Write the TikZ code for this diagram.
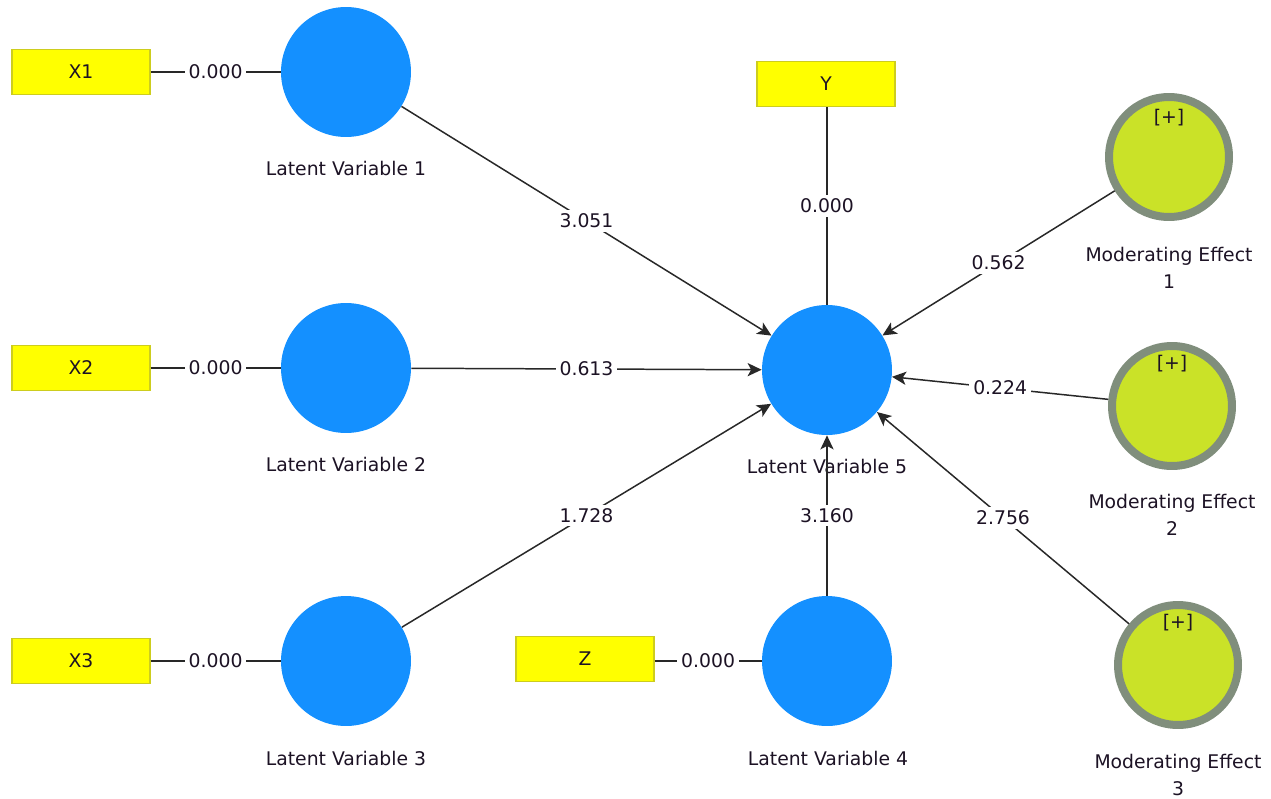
\documentclass[tikz,border=0pt]{standalone}
\usepackage{fontspec}
\setmainfont{DejaVu Sans}
\usetikzlibrary{arrows.meta}
\definecolor{lvblue}{RGB}{20,144,255}
\definecolor{indyellow}{RGB}{255,255,0}
\definecolor{indedge}{RGB}{205,205,30}
\definecolor{modfill}{RGB}{202,226,40}
\definecolor{modring}{RGB}{128,142,124}
\definecolor{txt}{RGB}{28,18,36}
\definecolor{wire}{RGB}{40,40,40}
\begin{document}
\begin{tikzpicture}[x=0.02cm,y=-0.02cm,
  every node/.style={font=\fontsize{10.7}{15.3}\selectfont, text=txt},
  indicator/.style={rectangle, draw=indedge, fill=indyellow, line width=0.6pt,
    minimum width=2.76cm, minimum height=0.9cm, inner sep=0pt},
  latent/.style={circle, fill=lvblue, minimum size=2.6cm, inner sep=0pt},
  moderator/.style={circle, fill=modfill, draw=modring, line width=0.16cm,
    minimum size=2.4cm, inner sep=0pt},
  caption/.style={align=center},
  coef/.style={fill=white, inner sep=2.2pt},
  link/.style={draw=wire, line width=0.85pt},
  effect/.style={link, -{Stealth[length=8pt,width=7.5pt,inset=2pt]}}
]
\useasboundingbox (0,0) rectangle (1271,798);

% indicators
\node[indicator] (x1) at (81,72)  {X1};
\node[indicator] (x2) at (81,368) {X2};
\node[indicator] (x3) at (81,661) {X3};
\node[indicator] (y)  at (826,84) {Y};
\node[indicator] (z)  at (585,659) {Z};

% latent variables
\node[latent] (lv1) at (346,72)  {};
\node[latent] (lv2) at (346,368) {};
\node[latent] (lv3) at (346,661) {};
\node[latent] (lv4) at (827,661) {};
\node[latent] (lv5) at (827,370) {};

\node[caption] (lv1c) at (346,168) {Latent Variable 1};
\node[caption] (lv2c) at (346,464) {Latent Variable 2};
\node[caption] (lv3c) at (346,758) {Latent Variable 3};
\node[caption] (lv4c) at (828,758) {Latent Variable 4};
\node[caption] (lv5c) at (827,466) {Latent Variable 5};

% moderating effects
\node[moderator] (me1) at (1169,157) {};
\node[moderator] (me2) at (1172,406) {};
\node[moderator] (me3) at (1178,665) {};

\node (me1p) at (1169,118) {[+]};
\node (me2p) at (1172,364) {[+]};
\node (me3p) at (1178,623) {[+]};

\node[caption] (me1c) at (1169,268) {Moderating Effect\\1};
\node[caption] (me2c) at (1172,515) {Moderating Effect\\2};
\node[caption] (me3c) at (1178,775) {Moderating Effect\\3};

% measurement links
\draw[link] (x1) -- node[coef] {0.000} (lv1);
\draw[link] (x2) -- node[coef] {0.000} (lv2);
\draw[link] (x3) -- node[coef] {0.000} (lv3);
\draw[link] (z.east |- lv4) -- node[coef] {0.000} (lv4);
\draw[link] (y.south -| lv5) -- node[coef] {0.000} (lv5);

% structural paths
\draw[effect] (lv1) -- node[coef] {3.051} (lv5);
\draw[effect] (lv2) -- node[coef] {0.613} (lv5);
\draw[effect] (lv3) -- node[coef] {1.728} (lv5);
\draw[effect] (lv4) -- node[coef] {3.160} (lv5);
\draw[effect] (me1) -- node[coef] {0.562} (lv5);
\draw[effect] (me2) -- node[coef] {0.224} (lv5);
\draw[effect] (me3) -- node[coef] {2.756} (lv5);
\end{tikzpicture}
\end{document}
